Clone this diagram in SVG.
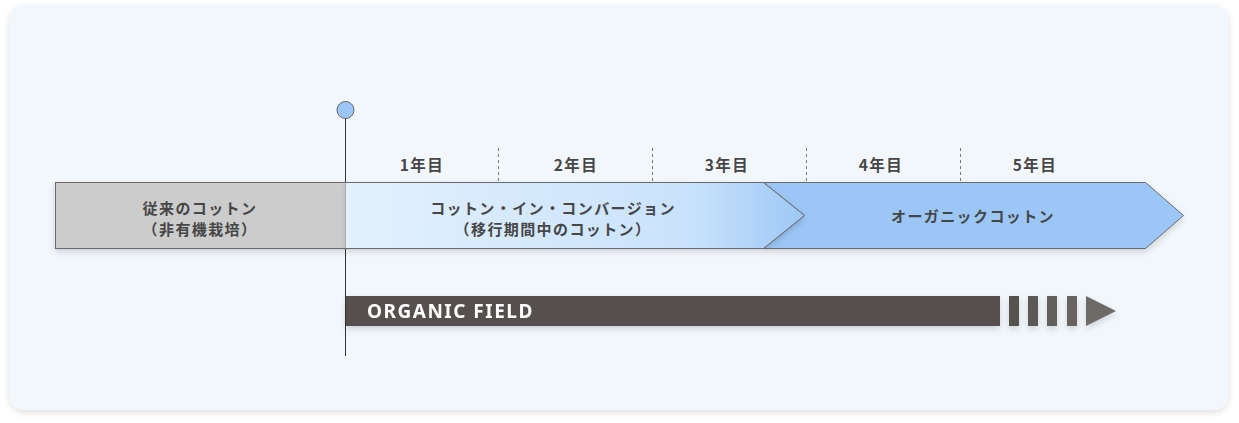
<svg xmlns="http://www.w3.org/2000/svg" width="1239" height="423" viewBox="0 0 1239 423">
<defs>
<filter id="cardShadow" x="-5%" y="-5%" width="110%" height="115%">
<feDropShadow dx="0" dy="3" stdDeviation="3" flood-color="#000" flood-opacity="0.12"/>
</filter>
<filter id="barShadow" x="-5%" y="-20%" width="110%" height="160%">
<feDropShadow dx="0" dy="3" stdDeviation="3" flood-color="#000" flood-opacity="0.15"/>
</filter>
<linearGradient id="conv" x1="345" y1="0" x2="805" y2="0" gradientUnits="userSpaceOnUse">
<stop offset="0" stop-color="#e3f1fd"/>
<stop offset="0.75" stop-color="#c9e2fb"/>
<stop offset="1" stop-color="#9ec8f6"/>
</linearGradient>
<style>
.jp{font-family:"Noto Sans CJK JP","Noto Sans",sans-serif;font-weight:700;font-size:15px;letter-spacing:1.4px;fill:#464646;text-anchor:middle}
.yr{font-family:"Noto Sans CJK JP","Noto Sans",sans-serif;font-weight:700;font-size:15.5px;letter-spacing:1.5px;fill:#464646;text-anchor:middle}
.dash{stroke:#777;stroke-width:1;stroke-dasharray:3 3}
.box{stroke:#6a6a6a;stroke-width:1}
</style>
</defs>
<rect x="9" y="4" width="1220" height="406" rx="16" fill="#f2f7fc" filter="url(#cardShadow)"/>

<g id="connectors">
<line x1="345.5" y1="118" x2="345.5" y2="356" stroke="#333" stroke-width="1"/>
<line class="dash" x1="498.5" y1="148" x2="498.5" y2="182"/>
<line class="dash" x1="652.5" y1="148" x2="652.5" y2="182"/>
<line class="dash" x1="806.5" y1="148" x2="806.5" y2="182"/>
<line class="dash" x1="960.5" y1="148" x2="960.5" y2="182"/>
</g>

<g id="years">
<text class="yr" x="422" y="171">1年目</text>
<text class="yr" x="576" y="171">2年目</text>
<text class="yr" x="727" y="171">3年目</text>
<text class="yr" x="881" y="171">4年目</text>
<text class="yr" x="1035" y="171">5年目</text>
</g>

<g id="node-conventional">
<rect class="box" x="55.5" y="182.5" width="290" height="66" fill="#cccccc" filter="url(#barShadow)"/>
<text class="jp" x="200" y="214">従来のコットン</text>
<text class="jp" x="200" y="235">（非有機栽培）</text>
</g>

<g id="node-organic">
<polygon class="box" points="763.5,182.5 1145.5,182.5 1183.5,215.5 1145.5,248.5 763.5,248.5 804.5,215.5" fill="#9bc6f5" filter="url(#barShadow)"/>
<text class="jp" x="973" y="222">オーガニックコットン</text>
</g>

<g id="node-conversion">
<polygon points="345.5,182.5 763.5,182.5 804.5,215.5 763.5,248.5 345.5,248.5" fill="url(#conv)" filter="url(#barShadow)"/>
<polyline class="box" fill="none" points="345.5,182.5 763.5,182.5 804.5,215.5 763.5,248.5 345.5,248.5"/>
<text class="jp" x="553" y="214">コットン・イン・コンバージョン</text>
<text class="jp" x="553" y="235">（移行期間中のコットン）</text>
</g>

<g id="node-start">
<circle cx="345.5" cy="110" r="8.5" fill="#9cc6f5" stroke="#666" stroke-width="1"/>
</g>

<g id="node-organic-field" filter="url(#barShadow)">
<rect x="346" y="296" width="654" height="30" fill="#544f4d"/>
<rect x="1009" y="296" width="10" height="30" fill="#57524f"/>
<rect x="1028" y="296" width="10" height="30" fill="#5c5855"/>
<rect x="1047" y="296" width="10" height="30" fill="#625e5b"/>
<rect x="1067" y="296" width="10" height="30" fill="#676361"/>
<polygon points="1086,296 1116,311 1086,326" fill="#6e6a68"/>
<text x="367" y="318" font-family="'Noto Sans','Liberation Sans',sans-serif" font-weight="700" font-size="19" letter-spacing="1.5" fill="#ffffff">ORGANIC FIELD</text>
</g>
</svg>
